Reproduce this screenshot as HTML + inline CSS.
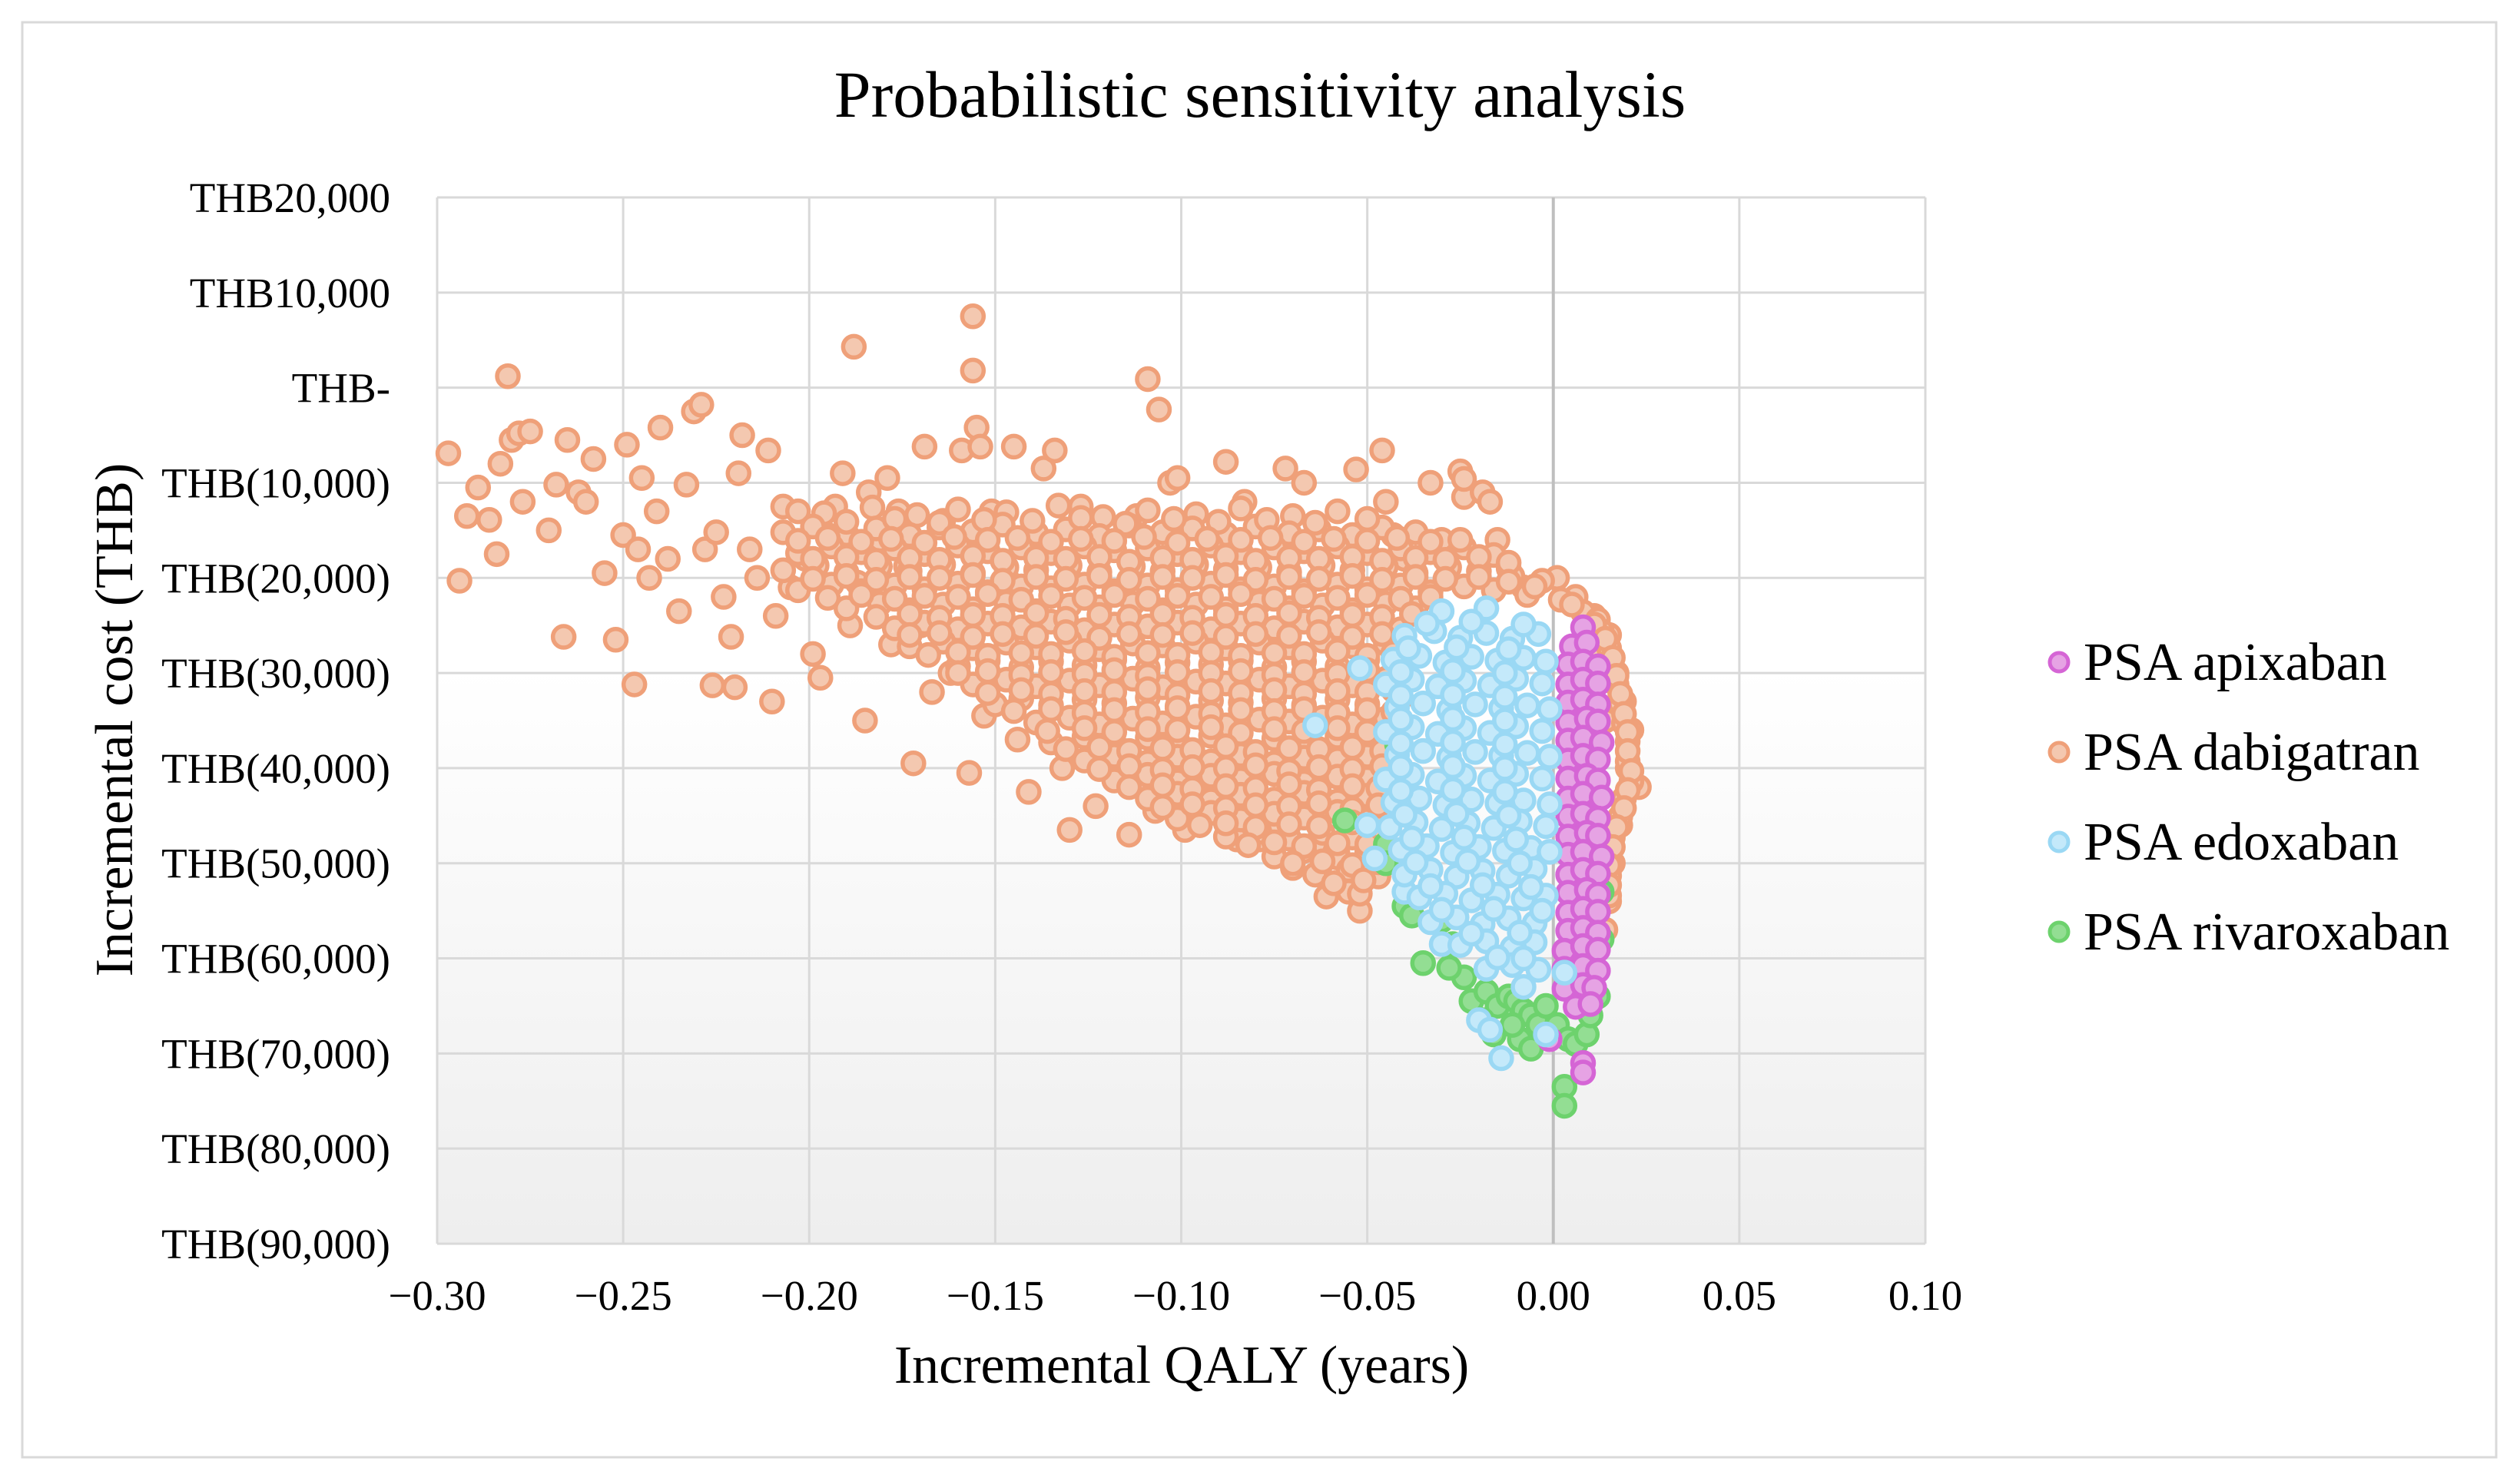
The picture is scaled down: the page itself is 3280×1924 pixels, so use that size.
<!DOCTYPE html>
<html><head><meta charset="utf-8">
<style>
html,body{margin:0;padding:0;background:#fff;}
svg{display:block;font-family:"Liberation Serif","DejaVu Serif",serif;}
</style></head>
<body>
<svg id="chart" width="3280" height="1924" viewBox="0 0 3280 1924" xmlns="http://www.w3.org/2000/svg">
<defs>
<linearGradient id="bg" x1="0" y1="0" x2="0" y2="1">
<stop offset="0" stop-color="#ffffff"/><stop offset="0.45" stop-color="#ffffff"/><stop offset="1" stop-color="#eeeeee"/>
</linearGradient>
</defs>
<rect x="29" y="29" width="3220" height="1868" fill="#fff" stroke="#d9d9d9" stroke-width="3"/>
<text x="1640" y="152" font-size="86" text-anchor="middle" fill="#000">Probabilistic sensitivity analysis</text>
<rect x="569" y="257" width="1937" height="1362" fill="url(#bg)"/>
<g id="grid"></g>
<g id="yticks"></g>
<g id="xticks"></g>
<g id="marks"></g>
<text transform="translate(172,937) rotate(-90)" font-size="70" text-anchor="middle" fill="#000">Incremental cost (THB)</text>
<text x="1538" y="1800" font-size="70" text-anchor="middle" fill="#000">Incremental QALY (years)</text>
<g id="legend"></g>
</svg>
<script>
const yTickValues = [20,10,0,-10,-20,-30,-40,-50,-60,-70,-80,-90];
const yTickLabels = ["THB20,000","THB10,000","THB-","THB(10,000)","THB(20,000)","THB(30,000)","THB(40,000)","THB(50,000)","THB(60,000)","THB(70,000)","THB(80,000)","THB(90,000)"];
const xTickValues = [-0.30,-0.25,-0.20,-0.15,-0.10,-0.05,0.00,0.05,0.10];
const xTickLabels = ["\u22120.30","\u22120.25","\u22120.20","\u22120.15","\u22120.10","\u22120.05","0.00","0.05","0.10"];
const seriesNames = ["PSA apixaban","PSA dabigatran","PSA edoxaban","PSA rivaroxaban"];

const dabigatranOutliers = [[-0.297,-6.9],[-0.294,-20.3],[-0.292,-13.5],[-0.289,-10.5],[-0.286,-13.9],[-0.284,-17.5],[-0.283,-8],[-0.280,-5.5],[-0.278,-4.8],[-0.281,1.2],[-0.277,-12],[-0.275,-4.6],[-0.270,-15],[-0.268,-10.2],[-0.266,-26.2],[-0.265,-5.5],[-0.262,-11],[-0.260,-12],[-0.258,-7.5],[-0.255,-19.5],[-0.252,-26.5],[-0.25,-15.5],[-0.249,-6],[-0.247,-31.2],[-0.246,-17],[-0.245,-9.5],[-0.243,-20],[-0.241,-13],[-0.240,-4.2],[-0.238,-18],[-0.235,-23.5],[-0.233,-10.2],[-0.231,-2.5],[-0.229,-1.8],[-0.228,-17],[-0.226,-31.3],[-0.225,-15.2],[-0.223,-22],[-0.221,-26.2],[-0.220,-31.5],[-0.219,-9],[-0.218,-5],[-0.216,-17],[-0.214,-20],[-0.211,-6.6],[-0.210,-33],[-0.209,-24],[-0.207,-12.5],[-0.205,-21],[-0.203,-13],[-0.201,-18],[-0.199,-28],[-0.197,-30.5],[-0.195,-15.5],[-0.193,-12.5],[-0.191,-9],[-0.189,-25],[-0.188,4.3],[-0.187,-20.5],[-0.185,-35],[-0.184,-11],[-0.181,-16],[-0.179,-9.5],[-0.178,-27],[-0.176,-13],[-0.174,-18.8],[-0.172,-39.5],[-0.170,-25],[-0.169,-6.2],[-0.167,-32],[-0.164,-14],[-0.162,-30],[-0.159,-6.6],[-0.157,-40.5],[-0.156,7.5],[-0.156,1.8],[-0.155,-4.2],[-0.154,-6.2],[-0.153,-34.5],[-0.151,-13],[-0.147,-20],[-0.145,-6.2],[-0.144,-37],[-0.141,-42.5],[-0.137,-8.5],[-0.134,-6.6],[-0.132,-40],[-0.130,-46.5],[-0.127,-12.5],[-0.123,-44],[-0.119,-38.5],[-0.114,-47],[-0.112,-13.5],[-0.109,0.9],[-0.107,-44.5],[-0.106,-2.3],[-0.103,-10],[-0.101,-9.5],[-0.099,-46.5],[-0.093,-41],[-0.091,-44.5],[-0.088,-7.8],[-0.085,-47.5],[-0.083,-12],[-0.079,-47.5],[-0.076,-46],[-0.072,-8.5],[-0.070,-50.5],[-0.067,-10],[-0.064,-48],[-0.061,-53.5],[-0.058,-49],[-0.055,-53],[-0.053,-8.6],[-0.052,-55],[-0.046,-6.6],[-0.045,-12],[-0.043,-15.5],[-0.040,-18],[-0.033,-10],[-0.030,-16],[-0.025,-8.8],[-0.024,-11.5],[-0.024,-9.6],[-0.019,-11],[-0.017,-12],[-0.015,-16],[-0.012,-19],[-0.008,-21],[0.001,-20],[0.006,-22],[0.011,-24],[0.015,-26],[0.017,-30],[0.019,-33],[0.021,-36],[0.023,-42],[0.020,-40],[0.018,-46],[0.016,-50],[0.015,-54],[0.014,-57],[0.012,-28],[0.014,-35]];

const dabigatranCore = [
[-0.196,-13.2],[-0.183,-12.6],[-0.171,-13.4],[-0.160,-12.8],[-0.147,-13.1],[-0.133,-12.4],[-0.121,-13.6],[-0.109,-12.9],[-0.096,-13.3],[-0.084,-12.7],[-0.070,-13.5],[-0.058,-13.0],
[-0.207,-15.2],[-0.199,-14.6],[-0.190,-15.4],[-0.182,-14.8],[-0.173,-15.5],[-0.165,-14.7],[-0.156,-15.1],[-0.148,-14.4],[-0.139,-15.3],[-0.131,-14.9],[-0.122,-15.6],[-0.114,-14.5],[-0.105,-15.2],[-0.097,-14.8],[-0.088,-15.4],[-0.080,-14.6],[-0.071,-15.3],[-0.063,-14.9],[-0.054,-15.5],[-0.046,-14.7],[-0.037,-15.2],
[-0.203,-17.4],[-0.194,-16.7],[-0.186,-17.3],[-0.177,-16.9],[-0.169,-17.5],[-0.160,-16.6],[-0.152,-17.2],[-0.143,-16.8],[-0.135,-17.4],[-0.126,-16.7],[-0.118,-17.1],[-0.109,-16.9],[-0.101,-17.5],[-0.092,-16.6],[-0.084,-17.3],[-0.075,-16.8],[-0.067,-17.2],[-0.058,-16.7],[-0.050,-17.4],[-0.041,-16.9],[-0.033,-17.3],[-0.024,-16.8],[-0.016,-17.6],
[-0.207,-19.2],[-0.198,-18.7],[-0.190,-19.4],[-0.181,-18.8],[-0.173,-19.3],[-0.164,-18.6],[-0.156,-19.5],[-0.147,-18.9],[-0.139,-19.2],[-0.130,-18.7],[-0.122,-19.4],[-0.113,-18.8],[-0.105,-19.3],[-0.096,-18.6],[-0.088,-19.1],[-0.079,-18.9],[-0.071,-19.4],[-0.062,-18.7],[-0.054,-19.2],[-0.045,-18.8],[-0.037,-19.5],[-0.028,-18.9],[-0.020,-19.3],[-0.011,-19.8],[-0.003,-20.3],
[-0.203,-21.3],[-0.194,-20.7],[-0.186,-21.4],[-0.177,-20.8],[-0.169,-21.2],[-0.160,-20.6],[-0.152,-21.5],[-0.143,-20.9],[-0.135,-21.1],[-0.126,-20.7],[-0.118,-21.4],[-0.109,-20.8],[-0.101,-21.3],[-0.092,-20.6],[-0.084,-21.2],[-0.075,-20.9],[-0.067,-21.4],[-0.058,-20.7],[-0.050,-21.2],[-0.041,-20.8],[-0.033,-21.5],[-0.024,-20.9],[-0.016,-21.3],[-0.007,-21.8],[0.002,-22.3],
[-0.190,-23.2],[-0.181,-22.7],[-0.173,-23.4],[-0.164,-22.8],[-0.156,-23.3],[-0.147,-22.6],[-0.139,-23.5],[-0.130,-22.9],[-0.122,-23.1],[-0.113,-22.7],[-0.105,-23.4],[-0.096,-22.8],[-0.088,-23.3],[-0.079,-22.6],[-0.071,-23.2],[-0.062,-22.9],[-0.054,-23.4],[-0.045,-22.7],[-0.037,-23.2],[0.008,-23.6],[0.012,-24.4],
[-0.177,-25.3],[-0.169,-24.7],[-0.160,-25.4],[-0.152,-24.8],[-0.143,-25.2],[-0.135,-24.6],[-0.126,-25.5],[-0.118,-24.9],[-0.109,-25.1],[-0.101,-24.7],[-0.092,-25.4],[-0.084,-24.8],[-0.075,-25.3],[-0.067,-24.6],[-0.058,-25.2],[-0.050,-24.9],[-0.041,-25.4],[0.013,-25.6],
[-0.173,-27.2],[-0.164,-26.7],[-0.156,-27.4],[-0.147,-26.8],[-0.139,-27.3],[-0.130,-26.6],[-0.122,-27.5],[-0.113,-26.9],[-0.105,-27.1],[-0.096,-26.7],[-0.088,-27.4],[-0.079,-26.8],[-0.071,-27.3],[-0.062,-26.6],[-0.054,-27.2],[-0.045,-26.9],[0.015,-27.4],
[-0.160,-29.3],[-0.152,-28.7],[-0.143,-29.4],[-0.135,-28.8],[-0.126,-29.2],[-0.118,-28.6],[-0.109,-29.5],[-0.101,-28.9],[-0.092,-29.1],[-0.084,-28.7],[-0.075,-29.4],[-0.067,-28.8],[-0.058,-29.3],[-0.050,-28.6],[-0.041,-29.2],[0.016,-29.5],
[-0.156,-31.2],[-0.147,-30.7],[-0.139,-31.4],[-0.130,-30.8],[-0.122,-31.3],[-0.113,-30.6],[-0.105,-31.5],[-0.096,-30.9],[-0.088,-31.1],[-0.079,-30.7],[-0.071,-31.4],[-0.062,-30.8],[-0.054,-31.3],[-0.045,-30.6],[0.017,-31.2],
[-0.150,-33.3],[-0.143,-32.7],[-0.135,-33.4],[-0.126,-32.8],[-0.118,-33.2],[-0.109,-32.6],[-0.101,-33.5],[-0.092,-32.9],[-0.084,-33.1],[-0.075,-32.7],[-0.067,-33.4],[-0.058,-32.8],[-0.050,-33.3],[-0.041,-32.6],[0.018,-33.2],
[-0.139,-35.2],[-0.130,-34.7],[-0.122,-35.4],[-0.113,-34.8],[-0.105,-35.3],[-0.096,-34.6],[-0.088,-35.5],[-0.079,-34.9],[-0.071,-35.1],[-0.062,-34.7],[-0.054,-35.4],[-0.045,-34.8],[0.019,-35.3],
[-0.135,-37.3],[-0.126,-36.7],[-0.118,-37.4],[-0.109,-36.8],[-0.101,-37.2],[-0.092,-36.6],[-0.084,-37.5],[-0.075,-36.9],[-0.067,-37.1],[-0.058,-36.7],[-0.050,-37.4],[0.020,-37.2],
[-0.126,-39.2],[-0.118,-38.7],[-0.109,-39.4],[-0.101,-38.8],[-0.092,-39.3],[-0.084,-38.6],[-0.075,-39.5],[-0.067,-38.9],[-0.058,-39.1],[-0.050,-38.7],[-0.042,-39.4],[0.020,-39.3],
[-0.118,-41.3],[-0.109,-40.7],[-0.101,-41.4],[-0.092,-40.8],[-0.084,-41.2],[-0.075,-40.6],[-0.067,-41.5],[-0.058,-40.9],[-0.050,-41.1],[0.021,-41.4],
[-0.109,-43.2],[-0.101,-42.7],[-0.092,-43.4],[-0.084,-42.8],[-0.075,-43.3],[-0.067,-42.6],[-0.058,-43.5],[-0.050,-42.9],[0.019,-43.2],
[-0.101,-45.3],[-0.092,-44.7],[-0.084,-45.4],[-0.075,-44.8],[-0.067,-45.2],[-0.058,-44.6],[-0.050,-45.5],[0.018,-45.1],
[-0.088,-47.2],[-0.079,-46.7],[-0.071,-47.4],[-0.062,-46.8],[-0.054,-47.3],[-0.046,-46.6],[0.016,-47.3],
[-0.075,-49.3],[-0.067,-48.7],[-0.058,-49.4],[-0.050,-48.8],[0.015,-49.2],
[-0.064,-51.2],[-0.055,-50.7],[-0.047,-51.4],[0.015,-51.3],
[-0.052,-53.2],[0.015,-53.4]];

const dabigatranFill = [
[-0.190,-14.1],[-0.177,-13.8],[-0.165,-14.2],[-0.153,-13.9],[-0.140,-14.0],[-0.127,-13.7],[-0.115,-14.3],[-0.102,-13.8],[-0.090,-14.1],[-0.077,-13.9],[-0.064,-14.2],[-0.050,-13.8],
[-0.203,-16.1],[-0.195,-15.8],[-0.186,-16.2],[-0.178,-15.9],[-0.169,-16.3],[-0.161,-15.7],[-0.152,-16.0],[-0.144,-15.8],[-0.135,-16.2],[-0.127,-15.9],[-0.118,-16.1],[-0.110,-15.7],[-0.101,-16.3],[-0.093,-15.9],[-0.084,-16.0],[-0.076,-15.8],[-0.067,-16.2],[-0.059,-15.9],[-0.050,-16.1],[-0.042,-15.8],[-0.033,-16.2],[-0.025,-16.0],
[-0.199,-18.0],[-0.190,-17.8],[-0.182,-18.2],[-0.173,-17.9],[-0.165,-18.1],[-0.156,-17.7],[-0.148,-18.2],[-0.139,-17.9],[-0.131,-18.0],[-0.122,-17.8],[-0.114,-18.3],[-0.105,-17.9],[-0.097,-18.1],[-0.088,-17.7],[-0.080,-18.2],[-0.071,-17.9],[-0.063,-18.0],[-0.054,-17.8],[-0.046,-18.2],[-0.037,-17.9],[-0.029,-18.1],[-0.020,-17.8],[-0.012,-18.4],
[-0.199,-20.1],[-0.190,-19.8],[-0.182,-20.2],[-0.173,-19.9],[-0.165,-20.0],[-0.156,-19.7],[-0.148,-20.3],[-0.139,-19.9],[-0.131,-20.1],[-0.122,-19.8],[-0.114,-20.2],[-0.105,-19.9],[-0.097,-20.0],[-0.088,-19.7],[-0.080,-20.2],[-0.071,-19.9],[-0.063,-20.1],[-0.054,-19.8],[-0.046,-20.2],[-0.037,-19.9],[-0.029,-20.1],[-0.020,-19.9],[-0.012,-20.4],[-0.005,-20.9],
[-0.195,-22.1],[-0.186,-21.8],[-0.177,-22.2],[-0.169,-21.9],[-0.160,-22.0],[-0.152,-21.7],[-0.143,-22.3],[-0.135,-21.9],[-0.126,-22.1],[-0.118,-21.8],[-0.109,-22.2],[-0.101,-21.9],[-0.092,-22.0],[-0.084,-21.7],[-0.075,-22.2],[-0.067,-21.9],[-0.058,-22.1],[-0.050,-21.8],[-0.041,-22.2],[-0.033,-22.0],[0.005,-22.8],
[-0.182,-24.1],[-0.173,-23.8],[-0.165,-24.2],[-0.156,-23.9],[-0.148,-24.0],[-0.139,-23.7],[-0.131,-24.3],[-0.122,-23.9],[-0.114,-24.1],[-0.105,-23.8],[-0.097,-24.2],[-0.088,-23.9],[-0.080,-24.0],[-0.071,-23.7],[-0.063,-24.2],[-0.054,-23.9],[-0.046,-24.1],[-0.038,-23.8],[0.011,-24.9],
[-0.173,-26.0],[-0.165,-25.8],[-0.156,-26.2],[-0.148,-25.9],[-0.139,-26.1],[-0.131,-25.7],[-0.122,-26.3],[-0.114,-25.9],[-0.105,-26.0],[-0.097,-25.8],[-0.088,-26.2],[-0.080,-25.9],[-0.071,-26.1],[-0.063,-25.7],[-0.054,-26.2],[-0.046,-25.9],[0.014,-26.4],
[-0.168,-28.1],[-0.160,-27.8],[-0.152,-28.2],[-0.143,-27.9],[-0.135,-28.0],[-0.126,-27.7],[-0.118,-28.3],[-0.109,-27.9],[-0.101,-28.1],[-0.092,-27.8],[-0.084,-28.2],[-0.075,-27.9],[-0.067,-28.0],[-0.058,-27.7],[-0.050,-28.2],[-0.043,-27.9],[0.016,-28.4],
[-0.160,-30.0],[-0.152,-29.8],[-0.143,-30.2],[-0.135,-29.9],[-0.126,-30.1],[-0.118,-29.7],[-0.109,-30.3],[-0.101,-29.9],[-0.092,-30.0],[-0.084,-29.8],[-0.075,-30.2],[-0.067,-29.9],[-0.058,-30.1],[-0.050,-29.7],[0.017,-30.3],
[-0.152,-32.1],[-0.143,-31.8],[-0.135,-32.2],[-0.126,-31.9],[-0.118,-32.0],[-0.109,-31.7],[-0.101,-32.3],[-0.092,-31.9],[-0.084,-32.1],[-0.075,-31.8],[-0.067,-32.2],[-0.058,-31.9],[-0.050,-32.0],[-0.043,-31.8],[0.018,-32.2],
[-0.145,-34.0],[-0.135,-33.8],[-0.126,-34.2],[-0.118,-33.9],[-0.109,-34.1],[-0.101,-33.7],[-0.092,-34.3],[-0.084,-33.9],[-0.075,-34.0],[-0.067,-33.8],[-0.058,-34.2],[-0.050,-33.9],[-0.043,-34.1],[0.019,-34.3],
[-0.136,-36.1],[-0.126,-35.8],[-0.118,-36.2],[-0.109,-35.9],[-0.101,-36.0],[-0.092,-35.7],[-0.084,-36.3],[-0.075,-35.9],[-0.067,-36.1],[-0.058,-35.8],[-0.050,-36.2],[0.020,-36.2],
[-0.131,-38.0],[-0.122,-37.8],[-0.114,-38.2],[-0.105,-37.9],[-0.097,-38.1],[-0.088,-37.7],[-0.080,-38.3],[-0.071,-37.9],[-0.063,-38.0],[-0.054,-37.8],[-0.046,-38.2],[0.020,-38.2],
[-0.122,-40.1],[-0.114,-39.8],[-0.105,-40.2],[-0.097,-39.9],[-0.088,-40.0],[-0.080,-39.7],[-0.071,-40.3],[-0.063,-39.9],[-0.054,-40.1],[-0.046,-39.8],[0.021,-40.3],
[-0.114,-42.0],[-0.105,-41.8],[-0.097,-42.2],[-0.088,-41.9],[-0.080,-42.1],[-0.071,-41.7],[-0.063,-42.3],[-0.054,-41.9],[-0.047,-42.1],[0.020,-42.3],
[-0.105,-44.1],[-0.097,-43.8],[-0.088,-44.2],[-0.080,-43.9],[-0.071,-44.0],[-0.063,-43.7],[-0.054,-44.3],[-0.047,-43.9],[0.019,-44.2],
[-0.095,-46.0],[-0.088,-45.8],[-0.080,-46.2],[-0.071,-45.9],[-0.063,-46.1],[-0.054,-45.7],[-0.047,-46.2],[0.017,-46.2],
[-0.082,-48.1],[-0.075,-47.8],[-0.067,-48.2],[-0.058,-47.9],[-0.050,-48.0],[0.016,-48.3],
[-0.070,-50.0],[-0.062,-49.8],[-0.054,-50.2],[-0.047,-49.9],[0.015,-50.2],
[-0.059,-52.1],[-0.051,-51.8],[0.015,-52.3]];

const edoxaban = [[-0.064,-35.5],[-0.052,-29.5],[-0.050,-46],[-0.048,-49.5],[-0.040,-53],[-0.030,-58.5],[-0.020,-66.5],[-0.017,-67.5],[-0.014,-70.5],[-0.008,-63],[0.003,-61.5],[-0.002,-68],
[-0.030,-23.5],[-0.018,-23.2],
[-0.040,-26.1],[-0.032,-25.6],[-0.025,-26.3],[-0.018,-25.8],[-0.011,-26.4],[-0.004,-25.9],
[-0.043,-28.6],[-0.036,-28.2],[-0.029,-28.9],[-0.022,-28.3],[-0.015,-28.7],[-0.008,-28.4],[-0.002,-28.8],
[-0.045,-31.2],[-0.038,-30.7],[-0.031,-31.4],[-0.024,-30.8],[-0.017,-31.3],[-0.010,-30.6],[-0.003,-31.1],
[-0.042,-33.6],[-0.035,-33.2],[-0.028,-33.9],[-0.021,-33.3],[-0.014,-33.7],[-0.007,-33.4],[-0.001,-33.8],
[-0.045,-36.2],[-0.038,-35.7],[-0.031,-36.4],[-0.024,-35.8],[-0.017,-36.3],[-0.010,-35.6],[-0.003,-36.1],
[-0.042,-38.6],[-0.035,-38.2],[-0.028,-38.9],[-0.021,-38.3],[-0.014,-38.7],[-0.007,-38.4],[-0.001,-38.8],
[-0.045,-41.2],[-0.038,-40.7],[-0.031,-41.4],[-0.024,-40.8],[-0.017,-41.3],[-0.010,-40.6],[-0.003,-41.1],
[-0.043,-43.6],[-0.036,-43.2],[-0.029,-43.9],[-0.022,-43.3],[-0.015,-43.7],[-0.008,-43.4],[-0.001,-43.8],
[-0.044,-46.2],[-0.037,-45.7],[-0.030,-46.4],[-0.023,-45.8],[-0.016,-46.3],[-0.009,-45.6],[-0.002,-46.1],
[-0.041,-48.6],[-0.034,-48.2],[-0.027,-48.9],[-0.020,-48.3],[-0.013,-48.7],[-0.006,-48.4],[-0.001,-48.8],
[-0.040,-51.2],[-0.033,-50.7],[-0.026,-51.4],[-0.019,-50.8],[-0.012,-51.3],[-0.005,-50.6],
[-0.036,-53.6],[-0.029,-53.2],[-0.022,-53.9],[-0.015,-53.3],[-0.008,-53.7],[-0.002,-53.4],
[-0.033,-56.2],[-0.026,-55.7],[-0.019,-56.4],[-0.012,-55.8],[-0.005,-56.3],
[-0.025,-58.6],[-0.018,-58.2],[-0.011,-58.9],[-0.005,-58.3],
[-0.018,-61.1],[-0.011,-60.7],[-0.004,-61.2],
[-0.034,-24.8],[-0.022,-24.6],[-0.008,-24.9],[-0.039,-27.4],[-0.026,-27.3],[-0.012,-27.5],[-0.041,-29.9],[-0.027,-29.8],[-0.013,-30.0],[-0.041,-32.4],[-0.027,-32.3],[-0.013,-32.5],
[-0.041,-34.9],[-0.027,-34.8],[-0.013,-35.0],[-0.041,-37.4],[-0.027,-37.3],[-0.013,-37.5],[-0.041,-39.9],[-0.027,-39.8],[-0.013,-40.0],[-0.041,-42.4],[-0.027,-42.3],[-0.013,-42.5],
[-0.040,-44.9],[-0.026,-44.8],[-0.012,-45.0],[-0.038,-47.4],[-0.024,-47.3],[-0.010,-47.5],[-0.037,-49.9],[-0.023,-49.8],[-0.009,-50.0],[-0.033,-52.4],[-0.019,-52.3],[-0.006,-52.5],
[-0.030,-54.9],[-0.016,-54.8],[-0.003,-55.0],[-0.022,-57.4],[-0.009,-57.3],[-0.015,-59.9],[-0.008,-60.0]];

const apixaban = [[0.008,-25.2],[0.008,-71],[0.008,-72],[-0.001,-68.5],
[0.005,-27.2],[0.009,-26.8],
[0.004,-29.1],[0.008,-28.8],[0.012,-29.3],[0.004,-31.2],[0.008,-30.7],[0.012,-31.1],
[0.004,-33.1],[0.008,-32.8],[0.012,-33.3],[0.004,-35.2],[0.009,-34.8],[0.012,-35.1],
[0.004,-37.1],[0.008,-36.8],[0.013,-37.3],[0.004,-39.2],[0.008,-38.7],[0.012,-39.1],
[0.004,-41.1],[0.009,-40.8],[0.012,-41.3],[0.004,-43.2],[0.008,-42.7],[0.013,-43.1],
[0.004,-45.1],[0.008,-44.8],[0.012,-45.3],[0.004,-47.2],[0.009,-46.8],[0.012,-47.1],
[0.004,-49.1],[0.008,-48.8],[0.013,-49.3],[0.004,-51.2],[0.008,-50.7],[0.012,-51.1],
[0.004,-53.1],[0.009,-52.8],[0.012,-53.3],[0.004,-55.2],[0.008,-54.8],[0.012,-55.1],
[0.004,-57.1],[0.008,-56.8],[0.012,-57.3],[0.003,-59.2],[0.008,-58.7],[0.012,-59.1],
[0.003,-61.1],[0.008,-60.8],[0.012,-61.3],[0.003,-63.2],[0.008,-62.8],[0.011,-63.1],
[0.006,-65.1],[0.010,-64.8]];

const rivaroxaban = [[-0.056,-45.5],[-0.042,-37.5],[-0.045,-48],[-0.045,-50],[-0.040,-54.5],[-0.038,-55.5],[-0.035,-60.5],[-0.027,-58.5],[-0.024,-62],[-0.022,-64.5],[-0.018,-63.5],[-0.015,-65],[-0.012,-64],[-0.010,-64.5],[-0.008,-65.5],[-0.006,-66],[-0.009,-68.5],[-0.006,-69.5],[-0.004,-67],[-0.002,-65],[0.001,-67],[0.004,-68.5],[0.006,-69],[0.009,-68],[0.010,-66],[0.003,-73.5],[0.003,-75.5],[-0.019,-66.5],[-0.016,-68],[-0.011,-67],[0.013,-53],[0.013,-58],[-0.030,-56],[-0.028,-61],[0.012,-64]];

const NS='http://www.w3.org/2000/svg';
const L=569,R=2506,T=257,B=1619;
const MR=14, MW=5.5;
function xS(v){return L+(v+0.3)/0.4*(R-L);}
function yS(v){return T+(20-v)/110*(B-T);}
function mk(tag,attrs,parent){const e=document.createElementNS(NS,tag);for(const k in attrs)e.setAttribute(k,attrs[k]);parent.appendChild(e);return e;}

const grid=document.getElementById('grid');
yTickValues.forEach((v,i)=>{
  const ln=mk('line',{x1:L,x2:R,y1:yS(v),y2:yS(v),stroke:'#d9d9d9','stroke-width':3},grid);
  
  
  const t=mk('text',{x:508,y:yS(v)+19,'font-size':55,'text-anchor':'end',fill:'#000'},document.getElementById('yticks'));
  t.textContent=yTickLabels[i];
  
  
});
xTickValues.forEach((v,i)=>{
  const ln=mk('line',{x1:xS(v),x2:xS(v),y1:T,y2:B,stroke:(Math.abs(v)<1e-9?'#bfbfbf':'#d9d9d9'),'stroke-width':(Math.abs(v)<1e-9?4:3)},grid);
  
  
  const t=mk('text',{x:xS(v),y:1705,'font-size':55,'text-anchor':'middle',fill:'#000'},document.getElementById('xticks'));
  t.textContent=xTickLabels[i];
  
  
});

const marks=document.getElementById('marks');
function drawSeries(pts,name,fill,stroke){
  const g=mk('g',{},marks);
  
  
  pts.forEach(p=>{
    const c=mk('circle',{cx:xS(p[0]),cy:yS(p[1]),r:MR,fill:fill,stroke:stroke,'stroke-width':MW},g);
    
    
  });
}
drawSeries(dabigatranOutliers.concat(dabigatranCore,dabigatranFill),'series-dabigatran','#F4C8B0','#EFA079');
drawSeries(rivaroxaban,'series-rivaroxaban','#93DE93','#6DD26D');
drawSeries(apixaban,'series-apixaban','#E6A3E4','#D565D5');
drawSeries(edoxaban,'series-edoxaban','#C4E9FA','#9AD8F4');

const legend=document.getElementById('legend');
const lf=['#E6A3E4','#F4C8B0','#C4E9FA','#93DE93'], ls=['#D565D5','#EFA079','#9AD8F4','#6DD26D'];
seriesNames.forEach((n,i)=>{
  const y=862+i*117;
  const c=mk('circle',{cx:2680,cy:y,r:12,fill:lf[i],stroke:ls[i],'stroke-width':5},legend);
  
  
  const t=mk('text',{x:2712,y:y+23,'font-size':70,fill:'#000'},legend);
  t.textContent=n;
  
  
});
</script>
</body></html>
